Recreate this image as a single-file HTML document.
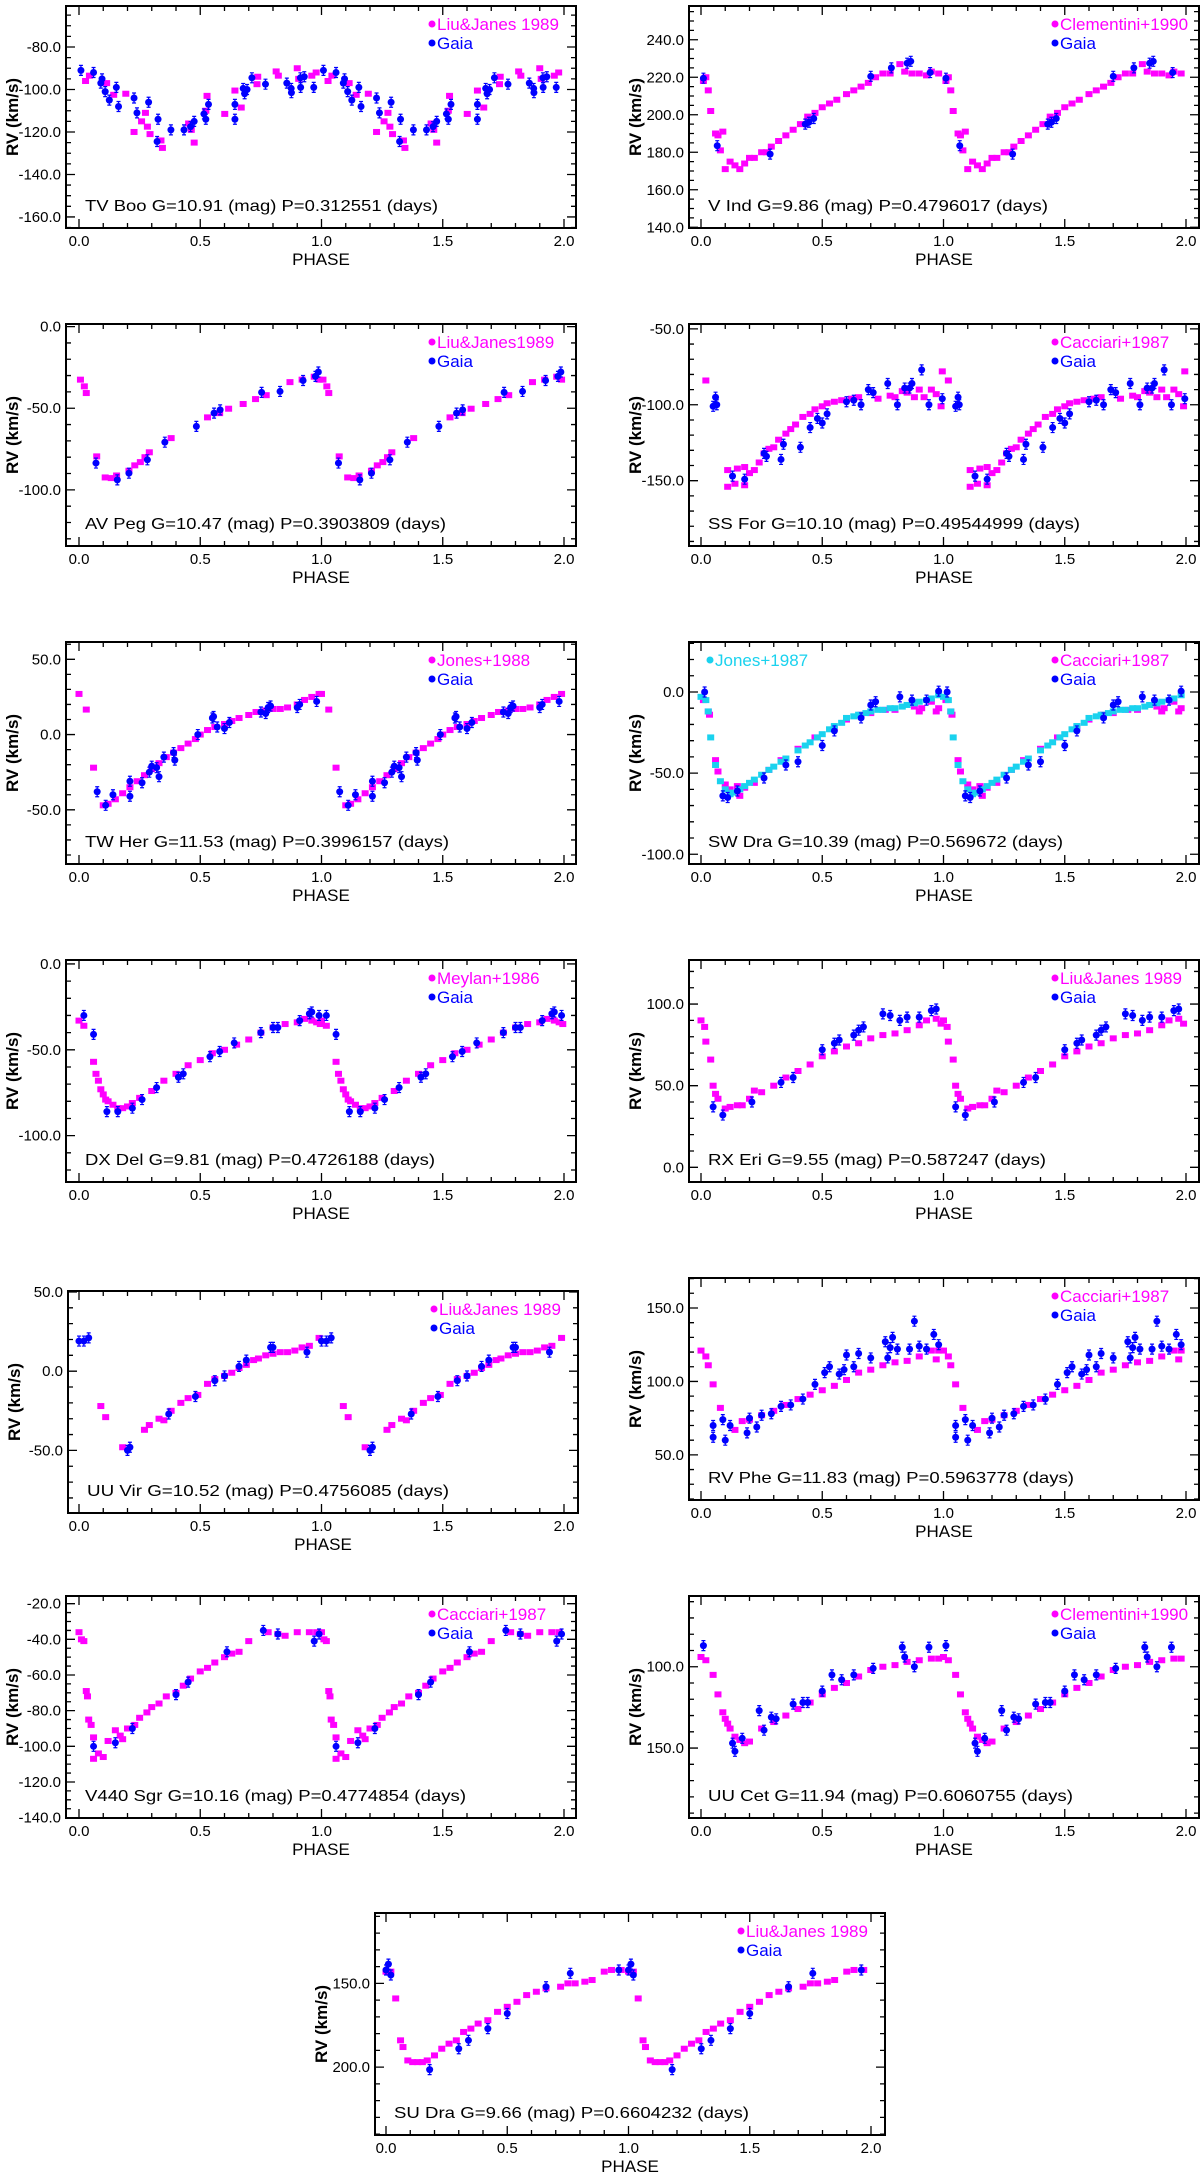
<!DOCTYPE html>
<html><head><meta charset="utf-8"><title>RV curves</title>
<style>
html,body{margin:0;padding:0;background:#fff;}
svg{display:block;font-family:"Liberation Sans",sans-serif;}
</style></head>
<body>
<svg id="fig" width="1200" height="2174" viewBox="0 0 1200 2174" xmlns="http://www.w3.org/2000/svg"></svg>
<script>
// ---------- DATA ----------
const tvbooRefPhase=[.027,.043,.114,.143,.193,.227,.258,.274,.282,.293,.338,.344,.452,.463,.475,.523,.528,.601,.643,.669,.734,.737,.813,.822,.9,.906,.96,.978];
const tvbooRefRV=[-96,-93.5,-97,-102.5,-102,-120,-115,-111,-117.5,-121,-124,-127.5,-116,-119,-125,-110,-103,-111.5,-100.5,-108.5,-97.5,-94,-91.5,-93.5,-90,-95,-93.5,-92];
const tvbooGaiaPhase=[.008,.06,.09,.095,.108,.125,.154,.163,.227,.239,.287,.322,.326,.379,.433,.46,.475,.515,.523,.534,.643,.643,.677,.683,.693,.713,.769,.857,.875,.876,.913,.914,.929,.968];
const tvbooGaiaRV=[-91,-92,-97,-95,-101,-105,-99,-108,-104,-111,-106,-124.5,-114,-119,-119,-117.5,-115,-111.5,-114,-107,-107,-114,-99.5,-102,-100,-94.5,-97.5,-97,-99.5,-101.5,-94.5,-99,-94,-99];
const tvbooTicks=[-80,-100,-120,-140,-160];

const vindRefPhase=[.01,.02,.03,.04,.06,.07,.08,.09,.1,.12,.14,.16,.18,.2,.22,.25,.27,.29,.32,.35,.38,.41,.44,.47,.5,.53,.56,.6,.63,.66,.69,.72,.75,.78,.82,.84,.87,.9,.93,.95,.98];
const vindRefRV=[218,220,213,202,190,189,181,191,171,175,173,171,174,177,177,180,180,183,186,189,192,195,199,201,204,206,208,211,213,215,217,220,222,222,227,223,222,222,221,223,222];
const vindGaiaPhase=[.01,.067,.285,.43,.445,.465,.7,.785,.85,.865,.945];
const vindGaiaRV=[219.5,183.5,179,195,196,198,220.5,225,227.5,228.5,222.5];
const vindTicks=[140,160,180,200,220,240];

const avpegRefPhase=[.006,.022,.03,.073,.108,.133,.155,.206,.23,.253,.272,.29,.38,.53,.58,.617,.677,.728,.772,.87,.92,.97,.99];
const avpegRefRV=[-32.5,-36.6,-40.7,-79.5,-92.4,-92.8,-91.2,-88.3,-85,-83,-80,-77,-68.3,-55.6,-53,-50.3,-47.4,-44.4,-42,-34,-32.5,-30.7,-32.5];
const avpegGaiaPhase=[.07,.158,.206,.282,.354,.484,.557,.582,.753,.829,.924,.975,.987];
const avpegGaiaRV=[-83.6,-93.9,-89.8,-81.6,-70.8,-61.1,-53,-51,-40.3,-39.7,-33,-30.5,-27.8];
const avpegTicks=[0,-50,-100];

const ssforRefPhase=[.02,.11,.11,.14,.15,.18,.18,.2,.22,.24,.26,.28,.3,.32,.35,.37,.39,.42,.45,.47,.5,.52,.55,.58,.62,.65,.73,.78,.8,.83,.85,.88,.9,.92,.95,.97,.99,.995];
const ssforRefRV=[-84,-143,-154,-152,-142,-141,-153,-145,-143,-138,-132,-129,-128,-123,-119,-116,-113,-108,-106,-103,-101,-99,-98,-97,-96,-95,-96,-94,-95,-91,-92,-95,-90,-95,-90,-93,-101,-78];
const ssforGaiaPhase=[.05,.06,.065,.13,.18,.26,.27,.33,.34,.41,.45,.48,.5,.52,.6,.63,.66,.69,.71,.77,.81,.84,.86,.87,.91,.94,.995];
const ssforGaiaRV=[-101,-95,-100,-147,-149,-132,-134,-136,-126,-128,-115,-109,-112,-106,-98,-97,-100,-90,-92,-86,-100,-89,-89,-86,-77,-100,-96];
const ssforTicks=[-50,-100,-150];

const twherRefPhase=[0,.03,.06,.1,.12,.15,.18,.21,.24,.27,.3,.33,.36,.39,.42,.45,.48,.5,.53,.56,.6,.63,.66,.7,.73,.77,.8,.83,.86,.9,.93,.96,.99];
const twherRefRV=[27,16.6,-22,-47,-46,-43,-39,-35,-31,-27,-23,-19,-15,-12,-9,-6,-3,0,3,5,7,9,11,13,15,16,17,17,18,20,23,25,27];
const twherGaiaPhase=[.075,.11,.14,.21,.21,.26,.29,.3,.32,.33,.35,.39,.395,.49,.55,.555,.57,.6,.62,.75,.77,.78,.79,.9,.91,.98];
const twherGaiaRV=[-38,-47,-40,-31,-41,-32,-25,-21,-22,-28,-15,-12,-17,0,11,12,5,4,8,15,14,18,19,18,20,22];
const twherTicks=[50,0,-50];

const swdraJonesPhase=[0,.02,.03,.04,.06,.08,.1,.13,.16,.2,.25,.3,.35,.4,.45,.5,.55,.6,.65,.7,.75,.8,.85,.9,.95,.98,.12,.18,.22,.28,.33,.43,.48,.53,.58,.63,.68,.73,.78,.83,.88,.93];
const swdraJonesRV=[-3,-5,-12,-28,-45,-55,-60,-62,-60,-56,-51,-46,-41,-36,-31,-26,-21,-16,-14,-12,-11,-10,-8,-6,-4,-2,-63,-58,-54,-48,-43,-33,-28,-23,-19,-15,-13,-11,-10,-9,-7,-5];
const swdraRefPhase=[.01,.03,.035,.06,.07,.1,.12,.15,.16,.18,.22,.28,.33,.4,.47,.55,.6,.66,.7,.76,.8,.88,.9,.91,.95,.97,.98];
const swdraRefRV=[-5,-12,-14,-42,-49,-57,-60,-58,-64,-59,-56,-48,-42,-35,-28,-22,-17,-14,-13,-11,-11,-9,-12,-10,-6,-12,-10];
const swdraGaiaPhase=[.015,.09,.11,.15,.26,.35,.4,.5,.55,.66,.7,.72,.82,.87,.93,.98];
const swdraGaiaRV=[0,-64,-65,-61,-53,-45,-43,-33,-24,-16,-8,-6,-3,-5,-5,0.5];
const swdraTicks=[0,-50,-100];

const dxdelRefPhase=[0,.02,.06,.07,.08,.09,.1,.11,.12,.14,.16,.18,.2,.22,.25,.3,.35,.4,.45,.5,.55,.6,.65,.7,.75,.8,.85,.9,.93,.96,.98,.995];
const dxdelRefRV=[-33,-36,-57,-64,-68,-73,-76,-79,-80,-82,-84,-84,-83,-81,-78,-74,-68,-64,-59,-56,-52,-50,-47,-44,-40,-37,-35,-34,-32,-33,-34,-35];
const dxdelGaiaPhase=[.02,.06,.115,.16,.22,.26,.32,.41,.43,.54,.58,.64,.75,.8,.82,.91,.95,.96,.99];
const dxdelGaiaRV=[-30,-41,-86,-86,-84,-79,-72,-66,-64,-54,-51,-46,-40,-37,-37,-33,-29,-28,-30];
const dxdelTicks=[0,-50,-100];

const rxeriRefPhase=[0,.015,.02,.04,.05,.06,.07,.1,.12,.15,.17,.2,.22,.25,.3,.35,.4,.45,.5,.55,.6,.65,.7,.75,.8,.85,.9,.93,.97,.99];
const rxeriRefRV=[90,86,77,66,50,45,42,36,37,38,38,42,47,46,50,55,59,63,68,71,74,76,79,81,82,84,87,90,91,88];
const rxeriGaiaPhase=[.05,.09,.21,.33,.38,.5,.55,.57,.63,.65,.67,.75,.78,.82,.85,.9,.95,.97];
const rxeriGaiaRV=[37,32,40,52,55,72,76,78,81,84,86,94,93,90,92,92,96,97];
const rxeriTicks=[100,50,0];

const uuvirRefPhase=[.09,.11,.18,.27,.29,.33,.35,.38,.42,.45,.49,.53,.56,.6,.63,.66,.69,.72,.74,.77,.8,.83,.86,.89,.92,.95,.99];
const uuvirRefRV=[-22,-29,-48,-37,-34,-30,-31,-25,-20,-17,-15,-8,-5,-3,-1,2,4,7,8,10,11,12,12,13,15,16,21];
const uuvirGaiaPhase=[0,.02,.04,.2,.21,.37,.48,.56,.6,.66,.69,.79,.8,.94];
const uuvirGaiaRV=[19,19,21,-50,-48,-27,-16,-6,-3,3,7,15,15,12];
const uuvirTicks=[50,0,-50];

const rvpheRefPhase=[0,.02,.03,.05,.08,.14,.17,.2,.25,.3,.35,.4,.45,.5,.55,.6,.65,.7,.75,.8,.85,.9,.95,.97,.98];
const rvpheRefRV=[121,117,111,98,82,67,73,74,77,80,84,88,91,94,97,101,106,108,111,113,114,117,121,115,121];
const rvpheGaiaPhase=[.05,.05,.09,.1,.12,.19,.2,.23,.25,.29,.33,.37,.42,.47,.51,.53,.57,.59,.6,.63,.65,.7,.76,.77,.78,.79,.81,.86,.88,.9,.93,.96,.98];
const rvpheGaiaRV=[62,70,74,60,70,65,75,69,77,78,83,84,88,98,106,110,105,108,118,110,119,116,127,116,123,130,122,122,141,124,122,132,125];
const rvpheTicks=[150,100,50];

const v440RefPhase=[0,.01,.02,.03,.035,.04,.05,.06,.06,.08,.1,.12,.15,.17,.18,.2,.23,.25,.28,.3,.33,.36,.4,.43,.46,.5,.53,.56,.6,.63,.66,.7,.78,.82,.85,.9,.95,.98];
const v440RefRV=[-36,-40,-41,-69,-72,-85,-88,-95,-107,-104,-106,-97,-91,-94,-96,-90,-88,-84,-81,-78,-76,-72,-70,-66,-62,-58,-56,-53,-50,-48,-47,-41,-36,-37,-38,-36,-36,-36];
const v440GaiaPhase=[.06,.15,.22,.4,.45,.61,.76,.82,.97,.99];
const v440GaiaRV=[-100,-98,-90,-71,-64,-47,-35,-37,-41,-37];
const v440Ticks=[-20,-40,-60,-80,-100,-120,-140];

const uucetRefPhase=[0,.02,.05,.07,.09,.1,.11,.12,.14,.16,.18,.2,.25,.3,.35,.4,.45,.5,.55,.6,.65,.7,.75,.8,.85,.9,.95,.98];
const uucetRefRV=[94,96,105,117,128,132,135,138,143,145,147,146,138,134,130,126,122,117,113,110,106,102,100,99,97,96,95,95];
const uucetGaiaPhase=[.01,.13,.14,.17,.24,.26,.29,.31,.38,.42,.44,.5,.54,.58,.63,.71,.83,.84,.88,.94];
const uucetGaiaRV=[87,147,152,144,127,139,131,132,123,122,122,115,105,108,105,101,88,94,100,88];
const uucetTicks=[100,150];

const sudraRefPhase=[0,.02,.04,.06,.07,.09,.11,.13,.15,.17,.2,.23,.26,.29,.32,.35,.38,.42,.46,.5,.54,.58,.62,.66,.72,.75,.78,.82,.85,.9,.93,.97];
const sudraRefRV=[143,143,159,184,188,196,197,197,197,196,193,189,186,184,179,177,174,172,167,164,161,157,155,153,152,150,150,149,148,143,142,142];
const sudraGaiaPhase=[0,.01,.02,.18,.3,.34,.42,.5,.66,.76,.96];
const sudraGaiaRV=[142,138.5,145,201.5,189,184,177,168,152,144,142];
const sudraTicks=[150,200];

// ---------- LAYOUT ----------
const panels=[
 {n:'tv-boo',bx:66,by:6,x0:13,yTop:-60.7,yBot:-165.2,minor:5,ticks:tvbooTicks,ref:'Liu&Janes 1989',lab:'TV Boo G=10.91 (mag) P=0.312551 (days)',tl:353,rp:tvbooRefPhase,rv:tvbooRefRV,gp:tvbooGaiaPhase,gv:tvbooGaiaRV},
 {n:'v-ind',bx:689,by:6,x0:12,yTop:258,yBot:139.6,minor:5,ticks:vindTicks,ref:'Clementini+1990',lab:'V Ind G=9.86 (mag) P=0.4796017 (days)',tl:340,rp:vindRefPhase,rv:vindRefRV,gp:vindGaiaPhase,gv:vindGaiaRV},
 {n:'av-peg',bx:66,by:324,x0:13,yTop:1.6,yBot:-134.4,minor:10,ticks:avpegTicks,ref:'Liu&Janes1989',lab:'AV Peg G=10.47 (mag) P=0.3903809 (days)',tl:361,rp:avpegRefPhase,rv:avpegRefRV,gp:avpegGaiaPhase,gv:avpegGaiaRV},
 {n:'ss-for',bx:689,by:324,x0:12,yTop:-46.8,yBot:-193,minor:10,ticks:ssforTicks,ref:'Cacciari+1987',lab:'SS For G=10.10 (mag) P=0.49544999 (days)',tl:372,rp:ssforRefPhase,rv:ssforRefRV,gp:ssforGaiaPhase,gv:ssforGaiaRV},
 {n:'tw-her',bx:66,by:642,x0:13,yTop:61.5,yBot:-86,minor:10,ticks:twherTicks,ref:'Jones+1988',lab:'TW Her G=11.53 (mag) P=0.3996157 (days)',tl:364,rp:twherRefPhase,rv:twherRefRV,gp:twherGaiaPhase,gv:twherGaiaRV},
 {n:'sw-dra',bx:689,by:642,x0:12,yTop:30.8,yBot:-106,minor:10,ticks:swdraTicks,ref:'Cacciari+1987',lab:'SW Dra G=10.39 (mag) P=0.569672 (days)',tl:355,rp:swdraRefPhase,rv:swdraRefRV,gp:swdraGaiaPhase,gv:swdraGaiaRV,cp:swdraJonesPhase,cv:swdraJonesRV},
 {n:'dx-del',bx:66,by:960,x0:13,yTop:2.3,yBot:-127,minor:10,ticks:dxdelTicks,ref:'Meylan+1986',lab:'DX Del G=9.81 (mag) P=0.4726188 (days)',tl:350,rp:dxdelRefPhase,rv:dxdelRefRV,gp:dxdelGaiaPhase,gv:dxdelGaiaRV},
 {n:'rx-eri',bx:689,by:960,x0:12,yTop:127,yBot:-9,minor:10,ticks:rxeriTicks,ref:'Liu&Janes 1989',lab:'RX Eri G=9.55 (mag) P=0.587247 (days)',tl:338,rp:rxeriRefPhase,rv:rxeriRefRV,gp:rxeriGaiaPhase,gv:rxeriGaiaRV},
 {n:'uu-vir',bx:68,by:1291,x0:11,yTop:50.6,yBot:-89.5,minor:10,ticks:uuvirTicks,ref:'Liu&Janes 1989',lab:'UU Vir G=10.52 (mag) P=0.4756085 (days)',tl:362,rp:uuvirRefPhase,rv:uuvirRefRV,gp:uuvirGaiaPhase,gv:uuvirGaiaRV},
 {n:'rv-phe',bx:689,by:1278,x0:12,yTop:170.4,yBot:19.3,minor:10,ticks:rvpheTicks,ref:'Cacciari+1987',lab:'RV Phe G=11.83 (mag) P=0.5963778 (days)',tl:366,rp:rvpheRefPhase,rv:rvpheRefRV,gp:rvpheGaiaPhase,gv:rvpheGaiaRV},
 {n:'v440-sgr',bx:66,by:1596,x0:13,yTop:-15.7,yBot:-140.2,minor:5,ticks:v440Ticks,ref:'Cacciari+1987',lab:'V440 Sgr G=10.16 (mag) P=0.4774854 (days)',tl:381,rp:v440RefPhase,rv:v440RefRV,gp:v440GaiaPhase,gv:v440GaiaRV},
 {n:'uu-cet',bx:689,by:1596,x0:12,yTop:56.5,yBot:193,minor:10,ticks:uucetTicks,ref:'Clementini+1990',lab:'UU Cet G=11.94 (mag) P=0.6060755 (days)',tl:365,rp:uucetRefPhase,rv:uucetRefRV,gp:uucetGaiaPhase,gv:uucetGaiaRV},
 {n:'su-dra',bx:375,by:1913,x0:11,yTop:108,yBot:240.5,minor:10,ticks:sudraTicks,ref:'Liu&Janes 1989',lab:'SU Dra G=9.66 (mag) P=0.6604232 (days)',tl:355,rp:sudraRefPhase,rv:sudraRefRV,gp:sudraGaiaPhase,gv:sudraGaiaRV}
];
const W=510,H=222,PX=242.5;
const NS='http://www.w3.org/2000/svg';
const svg=document.getElementById('fig');
function mk(tag,parent){const e=document.createElementNS(NS,tag);parent.appendChild(e);return e;}
function fmt(v){return v.toFixed(1);}

panels.forEach(p=>{
  const g=mk('g',svg);
  
  
  const X=ph=>p.bx+p.x0+ph*PX;
  const Y=v=>p.by+(p.yTop-v)/(p.yTop-p.yBot)*H;
  const lo=Math.min(p.yTop,p.yBot), hi=Math.max(p.yTop,p.yBot);
  // ticks
  const tk=mk('path',g);
  
  
  let d='';
  for(let k=0;k<=20;k++){const x=X(k/10);const L=(k%5===0)?9:5;d+=`M${x},${p.by+H}v${-L}M${x},${p.by}v${L}`;}
  for(let v=Math.ceil(lo/p.minor)*p.minor;v<=hi;v+=p.minor){const y=Y(v);const L=p.ticks.includes(v)?9:5;d+=`M${p.bx},${y}h${L}M${p.bx+W},${y}h${-L}`;}
  tk.setAttribute('d',d);tk.setAttribute('stroke','#000');tk.setAttribute('stroke-width','1.3');tk.setAttribute('fill','none');
  // frame
  const fr=mk('rect',g);
  
  
  fr.setAttribute('x',p.bx);fr.setAttribute('y',p.by);fr.setAttribute('width',W);fr.setAttribute('height',H);
  fr.setAttribute('fill','none');fr.setAttribute('stroke','#000');fr.setAttribute('stroke-width','2');
  // y tick labels
  p.ticks.forEach(v=>{const t=mk('text',g);
    
    
    t.setAttribute('x',p.bx-5);t.setAttribute('y',Y(v)+5);t.setAttribute('text-anchor','end');
    t.setAttribute('font-size','15');t.textContent=fmt(v);});
  // x tick labels
  [0,0.5,1,1.5,2].forEach(v=>{const t=mk('text',g);
    
    
    t.setAttribute('x',X(v));t.setAttribute('y',p.by+H+18);t.setAttribute('text-anchor','middle');
    t.setAttribute('font-size','15');t.textContent=fmt(v);});
  const xt=mk('text',g);
  
  
  xt.setAttribute('x',p.bx+W/2);xt.setAttribute('y',p.by+H+37);xt.setAttribute('text-anchor','middle');
  xt.setAttribute('font-size','17');xt.textContent='PHASE';
  const yt=mk('text',g);
  
  
  const yx=p.bx-48, yy=p.by+H/2;
  yt.setAttribute('transform',`translate(${yx},${yy}) rotate(-90)`);yt.setAttribute('text-anchor','middle');
  yt.setAttribute('font-size','17');yt.setAttribute('font-weight','bold');yt.textContent='RV (km/s)';
  // label
  const lb=mk('text',g);
  
  
  lb.setAttribute('x',p.bx+19);lb.setAttribute('y',p.by+H-17);lb.setAttribute('font-size','16');
  lb.setAttribute('textLength',p.tl);lb.setAttribute('lengthAdjust','spacingAndGlyphs');lb.textContent=p.lab;
  // series
  function series(ph,vals,color,shape,name,err){
    const sg=mk('g',g);
    
    
    ph.forEach((f,i)=>{[f,f+1].forEach(q=>{
      if(q>2.04)return;
      const x=X(q),y=Y(vals[i]);
      if(err){const e=mk('path',sg);
        
        
        e.setAttribute('d',`M${x},${y-5}v10M${x-2},${y-5}h4M${x-2},${y+5}h4`);e.setAttribute('stroke',color);e.setAttribute('stroke-width','1.2');}
      let m;
      if(shape==='sq'){m=mk('rect',sg);m.setAttribute('x',x-3.5);m.setAttribute('y',y-3);m.setAttribute('width',7);m.setAttribute('height',6);}
      else{m=mk('circle',sg);m.setAttribute('cx',x);m.setAttribute('cy',y);m.setAttribute('r',3.5);}
      
      
      m.setAttribute('fill',color);
    });});
  }
  series(p.rp,p.rv,'#ff00ff','sq','reference-series',false);
  if(p.cp)series(p.cp,p.cv,'#1ad2ee','sq','jones-series',false);
  series(p.gp,p.gv,'#0000ff','ci','gaia-series',true);
  // legend
  const lx=p.bx+W-148;
  [[p.ref,'#ff00ff',24],['Gaia','#0000ff',43]].forEach(([txt,c,dy])=>{
    const lg=mk('g',g);
    
    
    const dot=mk('circle',lg);dot.setAttribute('cx',lx+4);dot.setAttribute('cy',p.by+dy-6);dot.setAttribute('r',3.5);dot.setAttribute('fill',c);
    const t=mk('text',lg);t.setAttribute('x',lx+9);t.setAttribute('y',p.by+dy);t.setAttribute('font-size','17');t.setAttribute('fill',c);t.textContent=txt;
  });
  if(p.cp){
    const lg=mk('g',g);
    
    
    const dot=mk('circle',lg);dot.setAttribute('cx',p.bx+21);dot.setAttribute('cy',p.by+18);dot.setAttribute('r',3.5);dot.setAttribute('fill','#1ad2ee');
    const t=mk('text',lg);t.setAttribute('x',p.bx+26);t.setAttribute('y',p.by+24);t.setAttribute('font-size','17');t.setAttribute('fill','#1ad2ee');t.textContent='Jones+1987';
  }
});
</script>
</body></html>
